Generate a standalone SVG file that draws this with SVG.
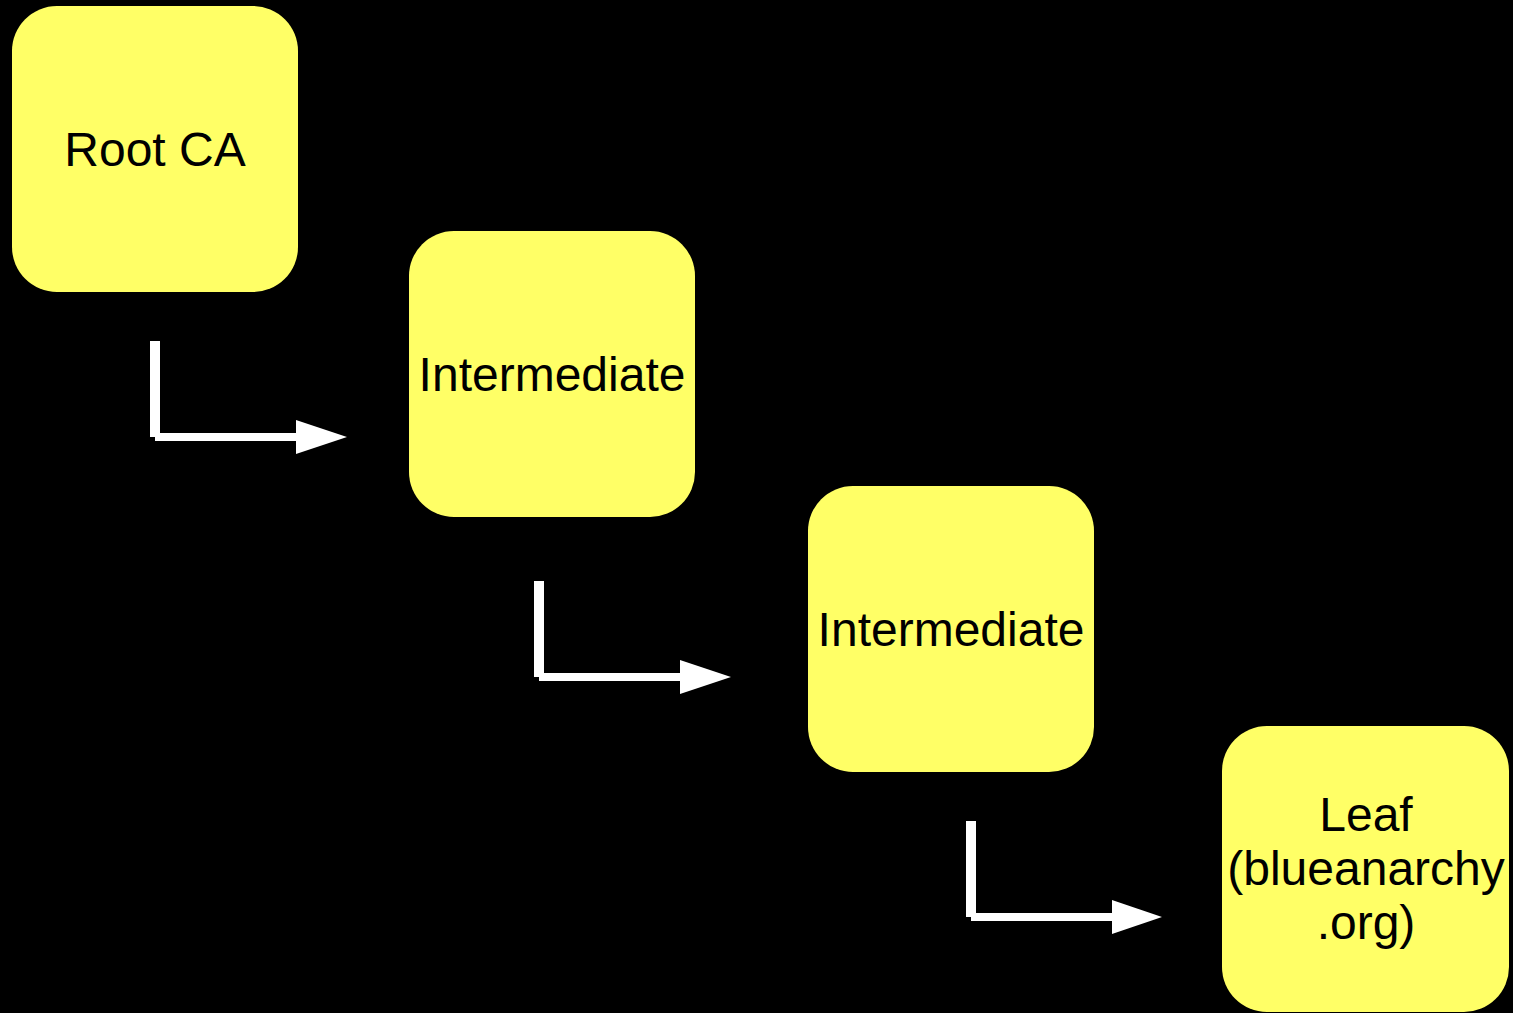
<svg xmlns="http://www.w3.org/2000/svg" width="1513" height="1013" viewBox="0 0 1513 1013">
<style>
.box{fill:#ffff66;stroke:none}
.lbl{font-family:"Liberation Sans",Arial,sans-serif;font-size:48px;fill:#000;text-anchor:middle}
.w{fill:#fff}
</style>
<rect x="0" y="0" width="1513" height="1013" fill="#000"/>
<g id="root">
<rect class="box" x="12" y="6" width="286" height="286" rx="45"/>
<text class="lbl" x="155" y="166">Root CA</text>
</g>
<g id="intermediate1">
<rect class="box" x="409" y="231" width="286" height="286" rx="45"/>
<text class="lbl" x="552" y="391">Intermediate</text>
</g>
<g id="intermediate2">
<rect class="box" x="808" y="486" width="286" height="286" rx="45"/>
<text class="lbl" x="951" y="646">Intermediate</text>
</g>
<g id="leaf">
<rect class="box" x="1222" y="726" width="287" height="286" rx="45"/>
<text class="lbl" x="1366" y="831">Leaf</text>
<text class="lbl" x="1366" y="885">(blueanarchy</text>
<text class="lbl" x="1366" y="939">.org)</text>
</g>
<g id="connectors">
<rect class="w" x="150" y="341" width="10" height="96"/>
<rect class="w" x="155" y="433" width="142" height="8"/>
<polygon class="w" points="296,420 347,437 296,454"/>
<rect class="w" x="534" y="581" width="10" height="96"/>
<rect class="w" x="539" y="673" width="142" height="8"/>
<polygon class="w" points="680,660 731,677 680,694"/>
<rect class="w" x="966" y="821" width="10" height="96"/>
<rect class="w" x="971" y="913" width="142" height="8"/>
<polygon class="w" points="1112,900 1162,917 1112,934"/>
</g>
</svg>
